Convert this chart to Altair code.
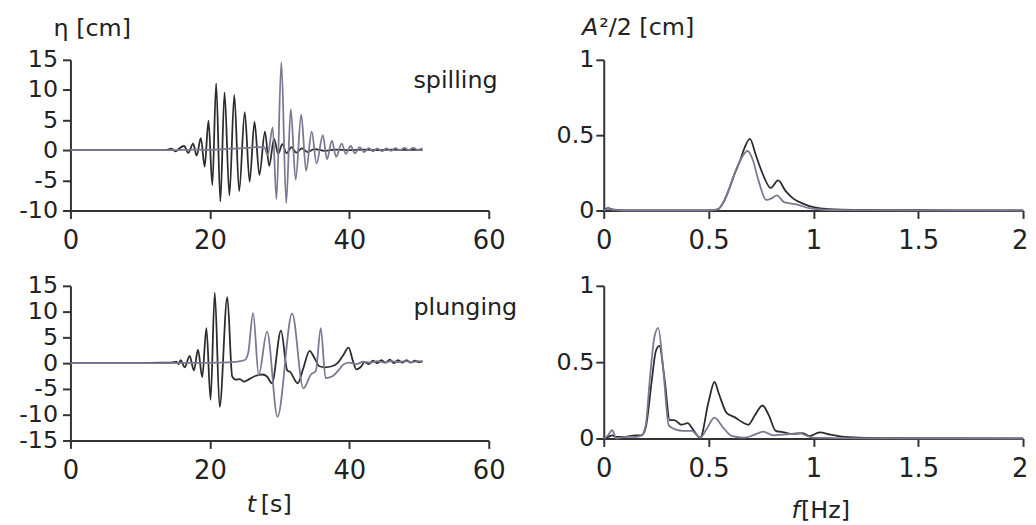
import altair as alt
import pandas as pd

# ---------------- data ----------------
# spilling, time series [s] / [cm]
sp_black_t = [0, 5, 10, 13.5, 14.5, 15.1, 15.6, 16.3, 16.9, 17.6, 18.1, 18.7, 19.25, 19.8, 20.35,
              20.9, 21.5, 22.1, 22.8, 23.5, 24.2, 25.0, 25.7, 26.4, 27.1, 27.9, 28.5, 29.2, 29.8,
              30.4, 31.0, 31.7, 32.4, 33.2, 34.0, 35.0, 36.5, 38, 40, 42, 44, 46, 48, 50.5]
sp_black_eta = [0, 0, 0, 0.0, 0.25, -0.2, 0.3, 0.7, -0.45, 1.1, -0.9, 2.0, -2.7, 4.9, -5.8,
                11.1, -8.5, 9.6, -7.5, 9.2, -6.8, 6.3, -5.2, 4.7, -4.1, 3.1, -2.6, 1.9, -0.6,
                1.0, -0.5, 0.5, -0.4, 0.3, -0.3, 0.2, -0.1, 0.1, 0, 0.1, 0, 0.1, 0.05, 0.05]
sp_gray_t = [0, 10, 14, 16, 18, 20, 22, 24, 25.5, 26.5, 27.8, 28.3, 29.0, 29.55, 30.25, 30.95,
             31.6, 32.3, 33.1, 33.8, 34.6, 35.3, 36.2, 36.8, 37.5, 38.1, 38.9, 39.5, 40.2, 40.8,
             41.5, 42.1, 42.8, 43.4, 44.0, 44.7, 45.3, 46.0, 46.6, 47.3, 47.9, 48.5, 49.2, 49.8, 50.5]
sp_gray_eta = [0, 0, 0, 0.05, 0.1, 0.05, 0.2, 0.3, 0.4, 0.5, 0.5, -0.8, 3.8, -8.1, 14.6, -8.8,
               6.8, -4.9, 5.9, -3.4, 3.1, -2.2, 2.5, -1.5, 1.6, -1.1, 1.1, -0.6, 0.7, -0.5,
               0.5, -0.3, 0.35, -0.2, 0.3, -0.15, 0.3, -0.1, 0.35, 0.0, 0.4, 0.05, 0.4, 0.05, 0.3]

# plunging, time series
pl_black_t = [0, 10, 13, 14.5, 15.2, 15.5, 15.8, 16.4, 17.1, 17.7, 18.3, 18.9, 19.5, 20.1, 20.7,
              21.4, 22.5, 23.2, 23.7, 24.3, 24.9, 25.4, 26.5, 27.5, 28.2, 28.9, 30.2, 31.1, 31.5,
              32.6, 33.4, 34.3, 35.0, 35.7, 36.5, 37.5, 38.3, 39.1, 39.9, 40.5, 41.0, 41.6, 42.2,
              42.8, 43.4, 44.0, 44.6, 45.2, 45.8, 46.4, 47.0, 47.6, 48.2, 48.8, 49.4, 50.0, 50.5]
pl_black_eta = [0, 0, 0.1, 0.1, 0.3, -0.2, 0.6, -0.8, 1.4, -1.4, 2.6, -2.7, 6.8, -7.1, 13.7,
                -8.5, 12.8, -2.6, -3.2, -3.1, -3.6, -3.3, -2.5, -2.2, -2.6, -3.9, 6.3, -1.4, -1.7,
                -3.9, -1.0, 2.4, 1.0, -0.6, -0.8, -0.6, 0.0, 1.5, 3.0, 0.5, -1.2, -0.8, 0.2,
                -0.2, 0.5, 0.0, 0.6, 0.1, 0.7, 0.0, 0.6, 0.1, 0.6, 0.1, 0.5, 0.2, 0.4]
pl_gray_t = [0, 10, 14, 18, 21, 23, 24, 25.0, 25.5, 26.2, 27.0, 28.2, 29.7, 31.8, 33.4, 34.5,
             35.2, 35.9, 36.6, 37.5, 38.5, 39.2, 40.0, 41.0, 42.0, 43.0, 44.0, 45.0, 46.0, 47.0,
             48.0, 49.0, 50.0, 50.5]
pl_gray_eta = [0, 0, 0, 0.05, 0.1, 0.2, 0.3, 0.6, 2.0, 9.7, -2.3, 6.1, -10.4, 9.6, -4.9, -2.2,
               -1.5, 6.8, -2.9, -2.6, -1.3, -0.2, 0.1, -0.2, 0.3, 0.1, 0.4, 0.1, 0.4, 0.2,
               0.4, 0.2, 0.4, 0.3]

# spilling, spectrum [Hz] / [cm]
ss_black_f = [0, 0.02, 0.05, 0.1, 0.3, 0.5, 0.54, 0.575, 0.6, 0.623, 0.65, 0.67, 0.697, 0.725,
              0.745, 0.765, 0.796, 0.832, 0.867, 0.906, 0.953, 1.0, 1.05, 1.1, 1.2, 1.3, 1.5, 1.7, 2.0]
ss_black_a = [0.0, 0.015, 0.005, 0.0, 0.0, 0.0, 0.005, 0.066, 0.15, 0.24, 0.33, 0.41, 0.475, 0.37,
              0.29, 0.22, 0.15, 0.20, 0.13, 0.077, 0.044, 0.022, 0.012, 0.007, 0.004, 0.003, 0.002, 0.001, 0.0]
ss_gray_f = [0, 0.02, 0.05, 0.1, 0.3, 0.5, 0.54, 0.575, 0.6, 0.623, 0.65, 0.686, 0.71, 0.738,
             0.775, 0.80, 0.826, 0.86, 0.92, 0.98, 1.05, 1.2, 1.5, 2.0]
ss_gray_a = [0, 0.012, 0.004, 0, 0, 0, 0.005, 0.066, 0.15, 0.24, 0.33, 0.395, 0.34, 0.20,
             0.07, 0.08, 0.10, 0.055, 0.04, 0.015, 0.005, 0.002, 0.001, 0]

# plunging, spectrum
ps_black_f = [0, 0.02, 0.04, 0.06, 0.1, 0.15, 0.18, 0.2, 0.23, 0.248, 0.265, 0.29, 0.315, 0.337,
              0.37, 0.4, 0.425, 0.46, 0.5, 0.528, 0.55, 0.585, 0.624, 0.67, 0.69, 0.72, 0.757,
              0.788, 0.82, 0.86, 0.9, 0.95, 0.98, 1.03, 1.08, 1.15, 1.25, 1.4, 2.0]
ps_black_a = [0.0, 0.01, 0.02, 0.01, 0.01, 0.02, 0.02, 0.07, 0.39, 0.57, 0.606, 0.39, 0.12, 0.12,
              0.09, 0.10, 0.06, 0.005, 0.24, 0.37, 0.29, 0.17, 0.14, 0.10, 0.09, 0.15, 0.216,
              0.15, 0.05, 0.04, 0.03, 0.035, 0.016, 0.04, 0.025, 0.01, 0.004, 0.002, 0.0]
ps_gray_f = [0, 0.02, 0.04, 0.06, 0.1, 0.15, 0.18, 0.2, 0.22, 0.241, 0.26, 0.284, 0.31, 0.34,
             0.38, 0.42, 0.46, 0.49, 0.528, 0.57, 0.61, 0.67, 0.72, 0.76, 0.81, 0.85, 0.89,
             0.93, 1.0, 1.1, 1.3, 2.0]
ps_gray_a = [0, 0.02, 0.054, 0.0, 0.01, 0.01, 0.02, 0.086, 0.39, 0.66, 0.725, 0.45, 0.086, 0.06,
             0.05, 0.05, 0.005, 0.06, 0.136, 0.07, 0.017, 0.005, 0.025, 0.045, 0.02, 0.025, 0.03,
             0.035, 0.005, 0.003, 0.001, 0]

time_ticks = [0, 20, 40, 60]
freq_ticks = [0, 0.5, 1, 1.5, 2]
eta_ticks_top = [-10, -5, 0, 5, 10, 15]
eta_ticks_bottom = [-15, -10, -5, 0, 5, 10, 15]
amp_ticks = [0, 0.5, 1]

# ---------------- styling ----------------
FONT = "DejaVu Sans"
BLACK = "#2c2c2c"
GRAY = "#7a7892"
AXC = "#333333"
TXT = "#222222"


def series_df(xb, yb, xg, yg):
    a = pd.DataFrame({"x": xb, "y": yb, "s": "a"})
    b = pd.DataFrame({"x": xg, "y": yg, "s": "b"})
    return pd.concat([a, b], ignore_index=True)


def axis(values, size, pad, last=None):
    kw = dict(values=values, grid=False, title=None, domainColor=AXC, domainWidth=2,
              tickColor=AXC, tickWidth=2, tickSize=8, labelFont=FONT, labelFontSize=size,
              labelColor=TXT, labelPadding=pad, labelFlush=False, labelOverlap=False,
              labelExpr="'' + datum.value")
    if last is not None:
        kw["labelAlign"] = {"condition": {"test": f"datum.value == {last}", "value": "right"},
                            "value": "center"}
        kw["labelOffset"] = {"condition": {"test": f"datum.value == {last}", "value": 5},
                             "value": 0}
    return alt.Axis(**kw)


def panel(df, xdom, ydom, xvals, yvals, w, h, ypad, texts, last=None):
    xs = alt.Scale(domain=xdom, nice=False, zero=False)
    ys = alt.Scale(domain=ydom, nice=False, zero=False)
    xa = axis(xvals, 26, 9, last)
    ya = axis(yvals, 24, ypad)
    lines = alt.Chart(df).mark_line(interpolate="monotone", strokeWidth=1.8).encode(
        x=alt.X("x:Q", scale=xs, axis=xa, title=None),
        y=alt.Y("y:Q", scale=ys, axis=ya, title=None),
        color=alt.Color("s:N", scale=alt.Scale(domain=["a", "b"], range=[BLACK, GRAY]), legend=None),
    )
    layers = [lines]
    for (txt, xv, yv, style) in texts:
        t = alt.Chart(alt.Data(values=[{"k": 1}])).mark_text(
            text=txt, font=FONT, fontSize=24, fontStyle=style, align="left",
            baseline="alphabetic", color=TXT,
        ).encode(
            x=alt.XDatum(xv, type="quantitative", scale=xs, axis=xa, title=None),
            y=alt.YDatum(yv, type="quantitative", scale=ys, axis=ya, title=None),
        )
        layers.append(t)
    return alt.layer(*layers).properties(width=w, height=h)


tl = panel(series_df(sp_black_t, sp_black_eta, sp_gray_t, sp_gray_eta), [0, 60], [-10, 15],
           time_ticks, eta_ticks_top, 422, 152, 5,
           [("η [cm]", -2.42, 19.0, "normal"), ("spilling", 49.2, 10.4, "normal")])
bl = panel(series_df(pl_black_t, pl_black_eta, pl_gray_t, pl_gray_eta), [0, 60], [-15, 15],
           time_ticks, eta_ticks_bottom, 422, 156, 5,
           [("plunging", 49.2, 9.4, "normal"), ("t", 25.3, -28.9, "italic"),
            ("[s]", 27.3, -28.9, "normal")])
tr = panel(series_df(ss_black_f, ss_black_a, ss_gray_f, ss_gray_a), [0, 2], [0, 1],
           freq_ticks, amp_ticks, 423, 152, 2,
           [("A", -0.104, 1.164, "italic"), ("²/2 [cm]", -0.022, 1.164, "normal")], last=2)
br = panel(series_df(ps_black_f, ps_black_a, ps_gray_f, ps_gray_a), [0, 2], [0, 1],
           freq_ticks, amp_ticks, 423, 154, 2,
           [("f", 0.895, -0.52, "italic"), ("[Hz]", 0.941, -0.52, "normal")], last=2)

chart = alt.concat(tl, tr, bl, br, columns=2, spacing={"row": 76, "column": 116},
                   bounds="flush").properties(
    padding={"left": 10, "top": 6, "right": 0, "bottom": 0},
    background="white",
).configure_view(stroke=None)

chart.save("out.html", embed_options={"renderer": "svg", "actions": False})
